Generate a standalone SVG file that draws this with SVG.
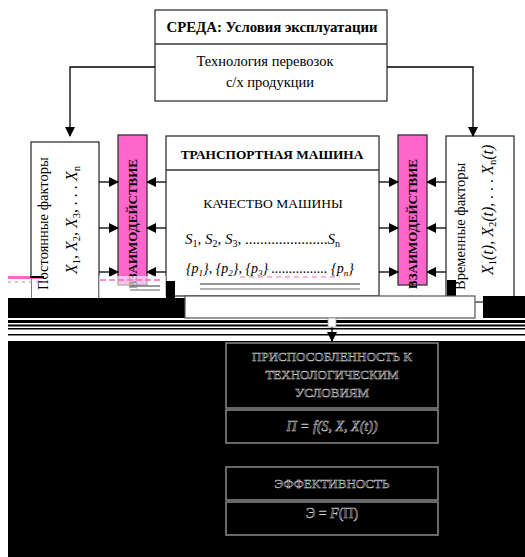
<svg xmlns="http://www.w3.org/2000/svg" width="525" height="557" viewBox="0 0 525 557">
<defs>
<style>
text{font-family:"Liberation Serif","DejaVu Serif","Times New Roman",serif}
.t{fill:#000}
.b{font-weight:bold}
.box{fill:#fff;stroke:#333;stroke-width:1.3}
.pink{fill:#ff66cc;stroke:#333;stroke-width:1.3}
.ln{fill:none;stroke:#000;stroke-width:1.3}
.dk{fill:#000;stroke:#8a8a8a;stroke-width:1.5}
.wt{fill:#000;stroke:#cfcfcf;stroke-width:0.5}
</style>
<marker id="ah" markerWidth="10" markerHeight="10" refX="9" refY="5" orient="auto" markerUnits="userSpaceOnUse"><path d="M0,0 L10,5 L0,10 Z" fill="#000"/></marker>
<marker id="ahw" markerWidth="14" markerHeight="14" refX="13" refY="7" orient="auto" markerUnits="userSpaceOnUse"><path d="M0,0 L13,7 L0,14 Z" fill="#000" stroke="#ccc" stroke-width="1"/></marker>
</defs>
<rect width="525" height="557" fill="#fff"/>

<g id="sreda">
<rect class="box" x="155" y="10" width="232" height="91"/>
<line x1="155" y1="44" x2="387" y2="44" stroke="#333" stroke-width="1.3"/>
<text class="t b" x="272" y="32" font-size="14.8" text-anchor="middle">СРЕДА: Условия эксплуатации</text>
<text class="t" x="265" y="66" font-size="14.5" text-anchor="middle">Технология перевозок</text>
<text class="t" x="270" y="87" font-size="14.5" text-anchor="middle">с/х продукции</text>
</g>

<g id="const">
<rect class="box" x="31" y="142" width="68" height="160"/>
<text class="t" font-size="14.5" transform="translate(48,290) rotate(-90)">Постоянные факторы</text>
<text class="t" font-size="16" font-style="italic" transform="translate(77,274) rotate(-90)">X<tspan font-size="10.5" dy="3" font-style="normal">1</tspan><tspan dy="-3">, X</tspan><tspan font-size="10.5" dy="3" font-style="normal">2</tspan><tspan dy="-3">, X</tspan><tspan font-size="10.5" dy="3" font-style="normal">3</tspan><tspan dy="-3">, . . . X</tspan><tspan font-size="10.5" dy="3" font-style="normal">n</tspan></text>
</g>

<g id="inter1">
<rect class="pink" x="118" y="135" width="29" height="150"/>
<text class="t b" font-size="13" transform="translate(137,289) rotate(-90)">ВЗАИМОДЕЙСТВИЕ</text>
</g>

<g id="machine">
<rect class="box" x="166" y="136" width="213" height="160"/>
<line x1="166" y1="170" x2="379" y2="170" stroke="#333" stroke-width="1.3"/>
<text class="t b" x="272" y="159" font-size="13.3" text-anchor="middle">ТРАНСПОРТНАЯ МАШИНА</text>
<text class="t" x="273" y="208" font-size="13.5" text-anchor="middle">КАЧЕСТВО МАШИНЫ</text>
<text class="t" x="185" y="244" font-size="15" font-style="italic">S<tspan font-size="10" dy="3" font-style="normal">1</tspan><tspan dy="-3">,  S</tspan><tspan font-size="10" dy="3" font-style="normal">2</tspan><tspan dy="-3">,  S</tspan><tspan font-size="10" dy="3" font-style="normal">3</tspan><tspan dy="-3" font-style="normal">, ......................</tspan>S<tspan font-size="10" dy="3" font-style="normal">n</tspan></text>
<text class="t" x="186" y="273" font-size="14" font-style="italic">{p<tspan font-size="9" dy="3">1</tspan><tspan dy="-3">}, {p</tspan><tspan font-size="9" dy="3">2</tspan><tspan dy="-3">}, {p</tspan><tspan font-size="9" dy="3">3</tspan><tspan dy="-3">} ................ {p</tspan><tspan font-size="9" dy="3">n</tspan><tspan dy="-3">}</tspan></text>
</g>

<g id="inter2">
<rect class="pink" x="398" y="135" width="29" height="150"/>
<text class="t b" font-size="13" transform="translate(417,289) rotate(-90)">ВЗАИМОДЕЙСТВИЕ</text>
</g>

<g id="temp">
<rect class="box" x="446" y="136" width="68" height="166"/>
<text class="t" font-size="14.5" transform="translate(465,290) rotate(-90)">Временные факторы</text>
<text class="t" font-size="16" font-style="italic" transform="translate(493,275) rotate(-90)">X<tspan font-size="10.5" dy="3" font-style="normal">1</tspan><tspan dy="-3">(t), X</tspan><tspan font-size="10.5" dy="3" font-style="normal">2</tspan><tspan dy="-3">(t), . . . X</tspan><tspan font-size="10.5" dy="3" font-style="normal">n</tspan><tspan dy="-3">(t)</tspan></text>
</g>

<g id="connectors">
<polyline class="ln" points="155,67 70,67 70,136" marker-end="url(#ah)"/>
<polyline class="ln" points="387,67 473,67 473,136" marker-end="url(#ah)"/>
<line class="ln" x1="99" y1="182" x2="118" y2="182" marker-end="url(#ah)"/>
<line class="ln" x1="99" y1="228" x2="118" y2="228" marker-end="url(#ah)"/>
<line class="ln" x1="99" y1="272" x2="118" y2="272" marker-end="url(#ah)"/>
<line class="ln" x1="166" y1="182" x2="147" y2="182" marker-end="url(#ah)"/>
<line class="ln" x1="166" y1="228" x2="147" y2="228" marker-end="url(#ah)"/>
<line class="ln" x1="166" y1="272" x2="147" y2="272" marker-end="url(#ah)"/>
<line class="ln" x1="379" y1="182" x2="398" y2="182" marker-end="url(#ah)"/>
<line class="ln" x1="379" y1="228" x2="398" y2="228" marker-end="url(#ah)"/>
<line class="ln" x1="379" y1="272" x2="398" y2="272" marker-end="url(#ah)"/>
<line class="ln" x1="446" y1="182" x2="427" y2="182" marker-end="url(#ah)"/>
<line class="ln" x1="446" y1="228" x2="427" y2="228" marker-end="url(#ah)"/>
<line class="ln" x1="446" y1="272" x2="427" y2="272" marker-end="url(#ah)"/>
<line class="ln" x1="332" y1="318" x2="332" y2="341" marker-end="url(#ah)"/>
<line x1="332" y1="443" x2="332" y2="466" stroke="#ccc" stroke-width="1.2" marker-end="url(#ahw)"/>
</g>

<g id="glitch">
<rect x="8" y="276" width="23" height="22" fill="#fff"/>
<rect x="8" y="276" width="34" height="3" fill="#ff66cc"/>
<rect x="30" y="276" width="14" height="2" fill="#000"/>
<line x1="8" y1="282" x2="50" y2="282" stroke="#999" stroke-width="1" stroke-dasharray="3 4"/>
<rect x="99" y="276" width="67" height="22" fill="#fff" opacity="0.6"/>
<line x1="100" y1="280" x2="160" y2="280" stroke="#ff66cc" stroke-width="1.5" stroke-dasharray="6 3"/>
<line x1="130" y1="286" x2="160" y2="286" stroke="#777" stroke-width="1.5"/>
<line x1="130" y1="290" x2="160" y2="290" stroke="#999" stroke-width="1.5"/>
<line x1="200" y1="284" x2="360" y2="284" stroke="#777" stroke-width="1.5"/>
<line x1="200" y1="289" x2="360" y2="289" stroke="#999" stroke-width="1.5"/>
<line x1="240" y1="277" x2="340" y2="277" stroke="#ff66cc" stroke-width="1.2" stroke-dasharray="5 4"/>
<rect x="447" y="280" width="9" height="17" fill="#000"/>
<rect x="166" y="281" width="9" height="17" fill="#000"/>
<rect x="8" y="298" width="177" height="20" fill="#000"/>
<rect x="185" y="296" width="290" height="22" fill="#fff" stroke="#555" stroke-width="1.2"/>
<rect x="483" y="296" width="42" height="22" fill="#000"/>
<rect x="8" y="320" width="517" height="3" fill="#000"/>
<rect x="8" y="324.5" width="517" height="2" fill="#000"/>
<rect x="8" y="328" width="517" height="1.5" fill="#000"/>
<rect x="8" y="334" width="517" height="1.5" fill="#000"/>
<rect x="328" y="318" width="8" height="9" fill="#fff" stroke="#999" stroke-width="0.8"/>
</g>

<rect x="8" y="341" width="517" height="216" fill="#000"/>

<g id="prisp">
<rect class="dk" x="226" y="343" width="212" height="65"/>
<text class="wt" x="332" y="361" font-size="13" text-anchor="middle">ПРИСПОСОБЛЕННОСТЬ К</text>
<text class="wt" x="332" y="379" font-size="13" text-anchor="middle">ТЕХНОЛОГИЧЕСКИМ</text>
<text class="wt" x="332" y="397" font-size="13" text-anchor="middle">УСЛОВИЯМ</text>
</g>
<g id="formula1">
<rect class="dk" x="226" y="410" width="212" height="33"/>
<text class="wt" x="332" y="431" font-size="14" font-style="italic" text-anchor="middle">П = f(S, X, X(t))</text>
</g>
<g id="effect">
<rect class="dk" x="226" y="467" width="212" height="33"/>
<text class="wt" x="332" y="488" font-size="13" text-anchor="middle">ЭФФЕКТИВНОСТЬ</text>
</g>
<g id="formula2">
<rect class="dk" x="226" y="502" width="212" height="33"/>
<text class="wt" x="332" y="518" font-size="14" text-anchor="middle">Э = <tspan font-style="italic">F</tspan>(П)</text>
</g>
</svg>
